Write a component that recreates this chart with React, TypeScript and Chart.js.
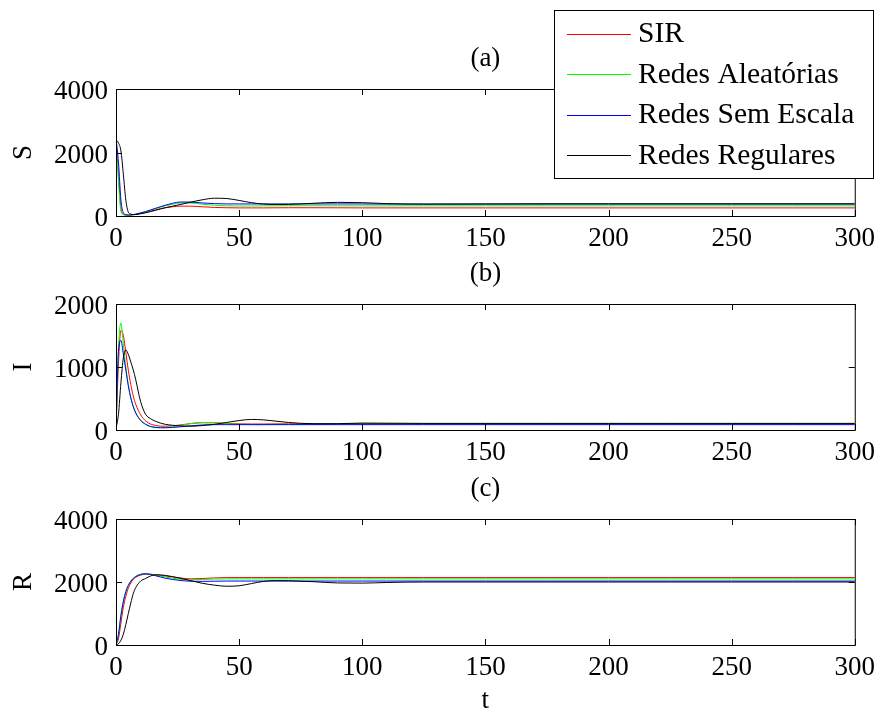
import React, { useEffect, useRef } from "react";
import { Chart, registerables } from "chart.js";

Chart.register(...registerables);

const FONT = "'Liberation Serif', 'Times New Roman', serif";
const AXIS_FONT_SIZE = 27;
const LEGEND_FONT_SIZE = 29.5;

// time samples (t)
const tValues = [0, 1, 2, 3, 4, 5, 6, 7, 8, 10, 12, 14, 16, 18, 20, 23, 26, 30, 35, 40, 45, 50, 55, 60, 65, 70, 80, 90, 100, 110, 125, 150, 175, 200, 225, 250, 275, 300];

const seriesNames = ["SIR", "Redes Aleatórias", "Redes Sem Escala", "Redes Regulares"];
const seriesColors = ["#ff0000", "#00ff00", "#0000ff", "#000000"];

// (a) S
const sSIR = [2450, 1300, 250, 60, 30, 25, 30, 40, 50, 80, 110, 150, 190, 230, 260, 290, 310, 310, 290, 270, 260, 255, 255, 255, 258, 260, 260, 258, 255, 255, 255, 255, 255, 255, 255, 255, 255, 255];
const sAleatorias = [2450, 1100, 150, 40, 25, 25, 30, 40, 55, 90, 130, 180, 230, 280, 320, 370, 410, 410, 370, 340, 320, 315, 315, 318, 320, 322, 322, 320, 318, 318, 320, 320, 320, 320, 320, 320, 320, 320];
const sSemEscala = [2450, 1700, 500, 100, 40, 30, 35, 45, 60, 100, 140, 190, 240, 290, 340, 400, 440, 440, 410, 390, 380, 380, 380, 380, 380, 380, 380, 380, 378, 375, 375, 375, 375, 375, 375, 375, 375, 375];
const sRegulares = [2400, 2300, 2050, 1300, 500, 120, 60, 45, 45, 70, 100, 140, 180, 220, 260, 310, 360, 430, 510, 560, 550, 490, 420, 375, 360, 365, 400, 430, 420, 390, 375, 380, 385, 385, 385, 385, 385, 385];

// (b) I
const iSIR = [30, 1050, 1580, 1500, 1230, 950, 720, 540, 410, 240, 145, 95, 72, 62, 60, 65, 80, 100, 115, 115, 105, 98, 95, 95, 97, 98, 100, 102, 102, 102, 102, 102, 102, 102, 102, 102, 102, 102];
const iAleatorias = [30, 1300, 1700, 1350, 1000, 720, 520, 380, 280, 160, 95, 60, 45, 40, 40, 50, 70, 100, 120, 115, 100, 90, 85, 85, 88, 90, 92, 95, 95, 95, 95, 95, 95, 95, 95, 95, 95, 95];
const iSemEscala = [30, 1250, 1420, 1200, 950, 700, 510, 370, 270, 150, 90, 55, 40, 35, 35, 40, 50, 65, 80, 85, 85, 85, 85, 85, 85, 85, 85, 85, 85, 85, 85, 85, 85, 85, 85, 85, 85, 85];
const iRegulares = [20, 250, 750, 1150, 1270, 1200, 1080, 955, 800, 450, 250, 180, 140, 110, 90, 75, 65, 60, 70, 90, 120, 150, 168, 160, 140, 120, 100, 100, 110, 108, 105, 105, 105, 105, 105, 105, 105, 105];

// (c) R
const rSIR = [0, 200, 700, 1200, 1550, 1800, 1970, 2080, 2150, 2220, 2245, 2245, 2230, 2210, 2190, 2160, 2130, 2100, 2110, 2130, 2140, 2140, 2140, 2140, 2140, 2140, 2140, 2140, 2140, 2140, 2140, 2140, 2140, 2140, 2140, 2140, 2140, 2140];
const rAleatorias = [0, 350, 950, 1400, 1700, 1900, 2030, 2120, 2180, 2245, 2265, 2250, 2220, 2190, 2160, 2120, 2090, 2070, 2080, 2095, 2100, 2100, 2100, 2100, 2100, 2100, 2100, 2100, 2100, 2100, 2100, 2100, 2100, 2100, 2100, 2100, 2100, 2100];
const rSemEscala = [0, 330, 930, 1380, 1690, 1890, 2020, 2110, 2170, 2240, 2260, 2240, 2200, 2160, 2120, 2080, 2050, 2025, 2020, 2025, 2030, 2030, 2030, 2030, 2030, 2030, 2030, 2030, 2030, 2030, 2030, 2030, 2030, 2030, 2030, 2030, 2030, 2030];
const rRegulares = [0, 40, 150, 350, 650, 1000, 1330, 1630, 1820, 2030, 2110, 2190, 2230, 2225, 2210, 2170, 2120, 2050, 1960, 1900, 1865, 1880, 1950, 2020, 2045, 2040, 2010, 1970, 1965, 1985, 2000, 2000, 2000, 2000, 2000, 2000, 2000, 2000];

// tick values
const xTicks = [0, 50, 100, 150, 200, 250, 300];
const sTicks = [0, 2000, 4000];
const iTicks = [0, 1000, 2000];
const rTicks = [0, 2000, 4000];

type PanelProps = {
  top: number;
  height: number;
  padTop: number;
  axisHeight: number;
  title: string;
  yLabel: string;
  xLabel?: string;
  yTicks: number[];
  series: number[][];
  legend?: boolean;
};

function Panel(props: PanelProps) {
  const ref = useRef<HTMLCanvasElement | null>(null);
  useEffect(() => {
    if (!ref.current) return;
    const { padTop, axisHeight, title, yLabel, xLabel, yTicks, series, legend } = props;
    const framePlugin = {
      id: "frame",
      afterDraw(chart: any) {
        const { ctx, chartArea: a, scales } = chart;
        const xs = scales.x;
        const ys = scales.y;
        ctx.save();
        ctx.strokeStyle = "#000";
        ctx.lineWidth = 1;
        ctx.strokeRect(a.left + 0.5, a.top + 0.5, a.right - a.left, a.bottom - a.top);
        const TL = 6;
        ctx.beginPath();
        xTicks.forEach((v) => {
          const px = Math.round(xs.getPixelForValue(v)) + 0.5;
          ctx.moveTo(px, a.bottom);
          ctx.lineTo(px, a.bottom - TL);
          ctx.moveTo(px, a.top);
          ctx.lineTo(px, a.top + TL);
        });
        yTicks.forEach((v) => {
          const py = Math.round(ys.getPixelForValue(v)) + 0.5;
          ctx.moveTo(a.left, py);
          ctx.lineTo(a.left + TL, py);
          ctx.moveTo(a.right, py);
          ctx.lineTo(a.right - TL, py);
        });
        ctx.stroke();
        // panel title
        ctx.fillStyle = "#000";
        ctx.font = `${AXIS_FONT_SIZE}px ${FONT}`;
        ctx.textAlign = "center";
        ctx.textBaseline = "middle";
        ctx.fillText(title, (a.left + a.right) / 2, a.top - 30);
        if (legend) {
          const bx = 554, by = 10, bw = 319, bh = 168;
          ctx.fillStyle = "#fff";
          ctx.fillRect(bx, by, bw, bh);
          ctx.strokeStyle = "#000";
          ctx.strokeRect(bx + 0.5, by + 0.5, bw, bh);
          ctx.font = `${LEGEND_FONT_SIZE}px ${FONT}`;
          ctx.textAlign = "left";
          ctx.textBaseline = "middle";
          chart.data.datasets.forEach((ds: any, i: number) => {
            const y = by + 23.5 + i * 40.6;
            ctx.strokeStyle = seriesColors[i];
            ctx.lineWidth = 1;
            ctx.beginPath();
            ctx.moveTo(567, Math.round(y) + 0.5);
            ctx.lineTo(631, Math.round(y) + 0.5);
            ctx.stroke();
            ctx.fillStyle = "#000";
            ctx.fillText(ds.label, 638, y + 1);
          });
        }
        ctx.restore();
      },
    };
    const chart = new Chart(ref.current, {
      type: "line",
      data: {
        datasets: series.map((arr, i) => ({
          label: seriesNames[i],
          data: tValues.map((t, k) => ({ x: t, y: arr[k] })),
          borderColor: seriesColors[i],
          backgroundColor: seriesColors[i],
          borderWidth: 1,
          pointRadius: 0,
          fill: false,
          cubicInterpolationMode: "monotone",
          order: series.length - i,
        })),
      },
      options: {
        animation: false,
        responsive: false,
        maintainAspectRatio: false,
        layout: { padding: { top: padTop, left: 0, right: 26, bottom: 0 } },
        plugins: { legend: { display: false }, tooltip: { enabled: false }, title: { display: false } },
        scales: {
          x: {
            type: "linear",
            min: 0,
            max: 300,
            afterBuildTicks: (s: any) => {
              s.ticks = xTicks.map((v) => ({ value: v }));
            },
            afterFit: (s: any) => {
              s.height = axisHeight;
            },
            grid: { display: false, drawTicks: false },
            border: { display: false },
            ticks: {
              color: "#000",
              font: { family: FONT, size: AXIS_FONT_SIZE },
              padding: 7,
              maxRotation: 0,
              autoSkip: false,
              callback: (v: any) => String(v),
            },
            title: xLabel
              ? { display: true, text: xLabel, color: "#000", font: { family: FONT, size: AXIS_FONT_SIZE }, padding: { top: 0, bottom: -6 } }
              : { display: false },
          },
          y: {
            type: "linear",
            min: yTicks[0],
            max: yTicks[yTicks.length - 1],
            afterBuildTicks: (s: any) => {
              s.ticks = yTicks.map((v) => ({ value: v }));
            },
            afterFit: (s: any) => {
              s.width = 116;
            },
            grid: { display: false, drawTicks: false },
            border: { display: false },
            ticks: {
              color: "#000",
              font: { family: FONT, size: AXIS_FONT_SIZE },
              padding: 8,
              labelOffset: 3,
              autoSkip: false,
              callback: (v: any) => String(v),
            },
            title: { display: true, text: yLabel, color: "#000", font: { family: FONT, size: AXIS_FONT_SIZE }, padding: { top: 8, bottom: 0 } },
          },
        },
      },
      plugins: [framePlugin],
    } as any);
    return () => chart.destroy();
  }, []);
  return (
    <div style={{ position: "absolute", left: 0, top: props.top, width: 882, height: props.height }}>
      <canvas ref={ref} width={882} height={props.height} style={{ display: "block" }} />
    </div>
  );
}

export default function App() {
  return (
    <div style={{ position: "absolute", left: 0, top: 0, width: 882, height: 711, background: "#fff", overflow: "hidden" }}>
      <Panel top={0} height={255} padTop={89} axisHeight={39} title="(a)" yLabel="S" yTicks={sTicks}
        series={[sSIR, sAleatorias, sSemEscala, sRegulares]} legend />
      <Panel top={255} height={215} padTop={49} axisHeight={40} title="(b)" yLabel="I" yTicks={iTicks}
        series={[iSIR, iAleatorias, iSemEscala, iRegulares]} />
      <Panel top={470} height={241} padTop={49} axisHeight={66} title="(c)" yLabel="R" xLabel="t" yTicks={rTicks}
        series={[rSIR, rAleatorias, rSemEscala, rRegulares]} />
    </div>
  );
}
